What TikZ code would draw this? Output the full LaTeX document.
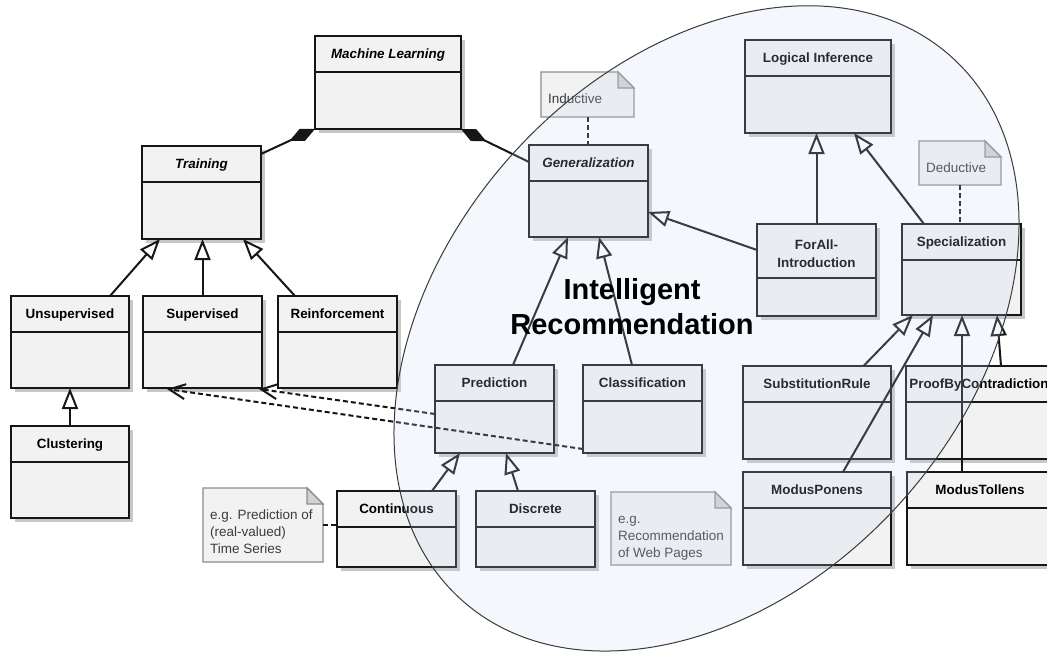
\documentclass[tikz,border=0pt]{standalone}
\usepackage{fontspec}
\setmainfont{Liberation Sans}
\usetikzlibrary{arrows.meta,calc,shadows}

\definecolor{boxfill}{HTML}{F2F2F2}
\definecolor{boxline}{HTML}{161616}
\definecolor{notefill}{HTML}{F2F2F2}
\definecolor{noteline}{HTML}{8C8C8C}
\definecolor{notefold}{HTML}{D2D2D2}
\definecolor{notetextcol}{HTML}{3C3C3C}
\definecolor{regionfill}{RGB}{200,218,240}
\definecolor{regionline}{HTML}{3A3A3A}

\tikzset{
  classbox/.style={rectangle, draw=boxline, fill=boxfill, line width=2.2pt,
    inner sep=0pt, outer sep=0pt,
    drop shadow={shadow xshift=4pt, shadow yshift=-4pt, fill=black, opacity=0.22}},
  classline/.style={draw=boxline, line width=2pt},
  classtitle/.style={font=\fontsize{13.4}{16}\selectfont\bfseries,
    text height=9.6pt, text depth=0pt, inner sep=0pt},
  notearea/.style={rectangle, inner sep=0pt, outer sep=0pt},
  noteshape/.style={draw=noteline, fill=notefill, line width=1.3pt, line join=miter},
  notefoldshape/.style={draw=noteline, fill=notefold, line width=1.3pt},
  notetext/.style={font=\fontsize{13.5}{16}\selectfont, text=notetextcol,
    anchor=base west, inner sep=0pt},
  conn/.style={draw=boxline, line width=2pt},
  inherit/.style={conn, -{Triangle[length=21pt,width=16pt,fill=white]}},
  compose/.style={conn, -{Diamond[length=28pt,width=13pt]}},
  depend/.style={conn, dash pattern=on 5pt off 3pt,
    -{Straight Barb[length=16pt,width=15pt]}},
  notelink/.style={conn, dash pattern=on 5pt off 3pt},
  region/.style={draw=regionline, line width=1pt, fill=regionfill, fill opacity=0.2},
  bigtitle/.style={font=\fontsize{29}{35}\selectfont\bfseries, anchor=base, inner sep=0pt}
}

% class box: name, left, top, width, height, header height, title
\newcommand\umlclass[7]{%
  \node[classbox, minimum width=#4pt, minimum height=#5pt, anchor=north west] (#1) at (#2,#3) {};
  \draw[classline] ($(#1.north west)+(0,#6)$) -- ($(#1.north east)+(0,#6)$);
  \node[classtitle] (#1-title) at ($(#1.north)+(0,#6/2)$) {#7};
}

% note with folded corner: name, left, top, width, height
\newcommand\umlnote[5]{%
  \node[notearea, minimum width=#4pt, minimum height=#5pt, anchor=north west] (#1) at (#2,#3) {};
  \draw[noteshape] (#1.north west) -- ($(#1.north east)+(-16,0)$) -- ($(#1.north east)+(0,16)$)
    -- (#1.south east) -- (#1.south west) -- cycle;
  \draw[notefoldshape] ($(#1.north east)+(-16,0)$) -- ($(#1.north east)+(-16,16)$)
    -- ($(#1.north east)+(0,16)$) -- cycle;
}

\begin{document}
\begin{tikzpicture}[x=1pt,y=-1pt]
\useasboundingbox (0,0) rectangle (1047,653);
\clip (0,0) rectangle (1047,653);
\fill[white] (0,0) rectangle (1047,653);

% ---- classes ----
\umlclass{ml}{315}{36}{146}{93}{36}{\itshape Machine Learning}
\umlclass{train}{142}{146}{119}{93}{36}{\itshape Training}
\umlclass{unsup}{11}{296}{118}{92}{36}{Unsupervised}
\umlclass{sup}{143}{296}{119}{92}{36}{Supervised}
\umlclass{reinf}{278}{296}{119}{92}{36}{Reinforcement}
\umlclass{clust}{11}{426}{118}{92}{36}{Clustering}
\umlclass{gen}{529}{145}{119}{92}{36}{\itshape Generalization}
\umlclass{li}{745}{40}{146}{93}{36}{Logical Inference}
\umlclass{forall}{757}{224}{119}{92}{54}{}
\node[classtitle, anchor=base] (forall-l1) at ($(forall.north)+(0,25.4)$) {ForAll-};
\node[classtitle, anchor=base] (forall-l2) at ($(forall.north)+(0,43)$) {Introduction};
\umlclass{spec}{902}{224}{119}{91}{36}{Specialization}
\umlclass{pred}{435}{365}{119}{88}{36}{Prediction}
\umlclass{class}{583}{365}{119}{88}{36}{Classification}
\umlclass{cont}{337}{491}{119}{76}{36}{Continuous}
\umlclass{disc}{476}{491}{119}{76}{36}{Discrete}
\umlclass{subrule}{743}{366}{148}{93}{36}{SubstitutionRule}
\umlclass{pbc}{906}{366}{146}{93}{36}{ProofByContradiction}
\umlclass{mponens}{743}{472}{148}{93}{36}{ModusPonens}
\umlclass{mtollens}{907}{472}{146}{93}{36}{ModusTollens}

% ---- notes ----
\umlnote{indnote}{541}{72}{93}{45}
\node[notetext] (indnote-l1) at ($(indnote.north west)+(7,31)$) {Inductive};
\umlnote{dednote}{919}{141}{82}{44}
\node[notetext] (dednote-l1) at ($(dednote.north west)+(7,31)$) {Deductive};
\umlnote{tsnote}{203}{488}{120}{74}
\node[notetext] (tsnote-l1) at ($(tsnote.north west)+(7,31)$) {e.g. Prediction of};
\node[notetext] (tsnote-l2) at ($(tsnote.north west)+(7,48.3)$) {(real-valued)};
\node[notetext] (tsnote-l3) at ($(tsnote.north west)+(7,65.6)$) {Time Series};
\umlnote{webnote}{611}{492}{120}{73}
\node[notetext] (webnote-l1) at ($(webnote.north west)+(7,31)$) {e.g.};
\node[notetext] (webnote-l2) at ($(webnote.north west)+(7,48.3)$) {Recommendation};
\node[notetext] (webnote-l3) at ($(webnote.north west)+(7,65.6)$) {of Web Pages};

% ---- composition ----
\draw[compose] ($(train.north east)+(0,8)$) -- (ml.south west);
\draw[compose] ($(gen.north west)+(0,17)$) -- (ml.south east);

% ---- inheritance ----
\draw[inherit] ($(unsup.north west)+(99,0)$) -- ($(train.south west)+(18,0)$);
\draw[inherit] (sup.north) -- (sup.north |- train.south);
\draw[inherit] ($(reinf.north west)+(17,0)$) -- ($(train.south west)+(101,0)$);
\draw[inherit] (clust.north) -- (unsup.south);
\draw[inherit] ($(pred.north west)+(78,0)$) -- ($(gen.south west)+(39,0)$);
\draw[inherit] ($(class.north west)+(49,0)$) -- ($(gen.south west)+(70,0)$);
\draw[inherit] ($(forall.north west)+(0,26)$) -- ($(gen.north east)+(0,67)$);
\draw[inherit] (forall.north) -- (forall.north |- li.south);
\draw[inherit] ($(spec.north west)+(22,0)$) -- ($(li.south west)+(109,0)$);
\draw[inherit] ($(subrule.north west)+(120.5,0)$) -- ($(spec.south west)+(11,0)$);
\draw[inherit] ($(mponens.north west)+(100,0)$) -- ($(spec.south west)+(31,0)$);
\draw[inherit] ($(mtollens.north west)+(55,0)$) -- ($(spec.south west)+(60,0)$);
\draw[inherit] ($(pbc.north west)+(95,0)$) -- ($(spec.south west)+(95,0)$);
\draw[inherit] ($(cont.north west)+(95,0)$) -- ($(pred.south west)+(25,0)$);
\draw[inherit] ($(disc.north west)+(42,0)$) -- ($(pred.south west)+(71,0)$);

% ---- dependencies ----
\draw[depend] ($(pred.north west)+(0,49)$) -- ($(sup.south east)+(-3,1)$);
\draw[depend] ($(class.north west)+(0,84)$) -- ($(sup.south west)+(24,1)$);

% ---- note links ----
\draw[notelink] (indnote.south) -- (indnote.south |- gen.north);
\draw[notelink] (dednote.south) -- (dednote.south |- spec.north);
\draw[notelink] (tsnote.east) -- (tsnote.east -| cont.west);
\draw[notelink] ($(disc.north east)+(0,33)$) -- ($(disc.north east)+(0,33)$ -| webnote.west);

% ---- highlighted region ----
\path[region, shift={(706.5,328.4)}, rotate=47.8] (0,0) ellipse [x radius=365.7pt, y radius=260.8pt];
\node[bigtitle] (regtitle1) at (632,299) {Intelligent};
\node[bigtitle] (regtitle2) at (632,334) {Recommendation};
\end{tikzpicture}
\end{document}
